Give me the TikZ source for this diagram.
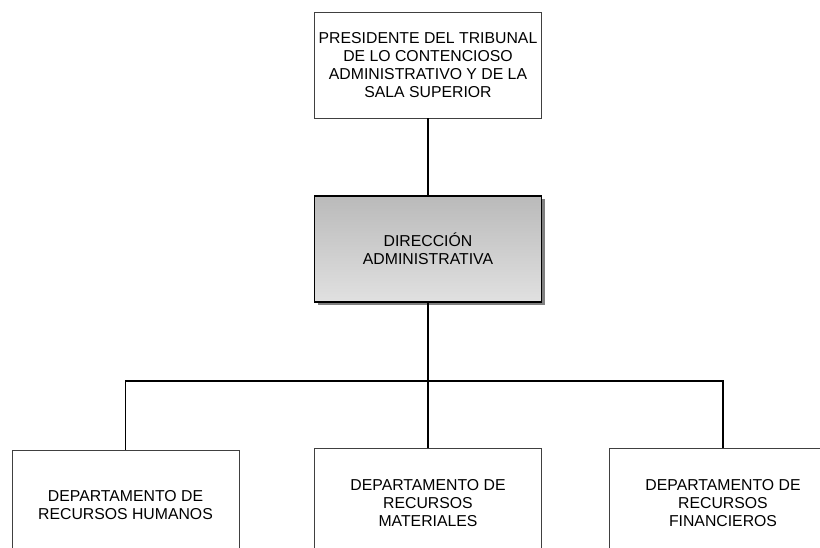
\documentclass[tikz,border=0pt]{standalone}
\usepackage{fontspec}
\setmainfont{Liberation Sans}
\usetikzlibrary{shadows}
\begin{document}
\begin{tikzpicture}[x=1pt,y=1pt,
        box/.style={draw=black!75,line width=0.8pt,minimum width=227pt,
            minimum height=106pt,align=center,inner sep=2pt,
            font=\fontsize{15.8}{18}\selectfont},
        headbox/.style={box,draw=black,line width=1.5pt,
            top color=black!27,bottom color=black!12,
            drop shadow={shadow xshift=3pt,shadow yshift=-3pt,fill=black!50,opacity=1}},
        link/.style={line width=1.2pt}]
    \useasboundingbox (0,0) rectangle (820,548);
    \clip (0,0) rectangle (820,548);

\node[box] (pres) at (428,483) {PRESIDENTE DEL TRIBUNAL\\DE LO CONTENCIOSO\\ADMINISTRATIVO Y DE LA\\SALA SUPERIOR};
\node[headbox] (dir) at (428,299) {DIRECCIÓN\\ADMINISTRATIVA};
\node[box,minimum height=110pt] (hum) at (125.5,43) {DEPARTAMENTO DE\\RECURSOS HUMANOS};
\node[box,minimum height=110pt] (mat) at (428,45) {DEPARTAMENTO DE\\RECURSOS\\MATERIALES};
\node[box,minimum height=110pt] (fin) at (723,45) {DEPARTAMENTO DE\\RECURSOS\\FINANCIEROS};
\coordinate (bus) at (428,167);

\draw[link] (pres.south) -- (dir.north);
\draw[link] (dir.south) -- (bus) -- (mat.north);
\draw[link] (hum.north) -- (hum.north |- bus) -- (fin.north |- bus) -- (fin.north);
\end{tikzpicture}
\end{document}
